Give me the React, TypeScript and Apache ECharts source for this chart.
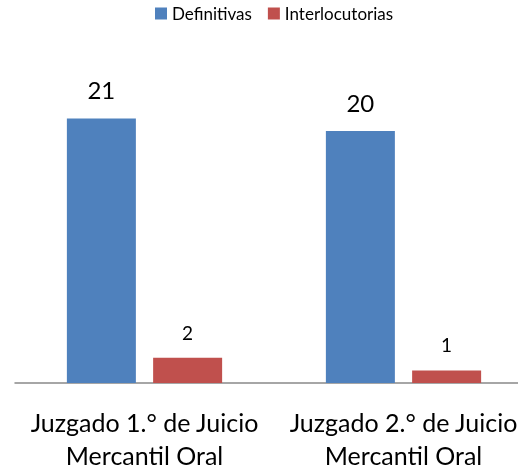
import React, { useEffect, useRef } from "react";
import * as echarts from "echarts";

const categories = ["Juzgado 1.° de Juicio\nMercantil Oral", "Juzgado 2.° de Juicio\nMercantil Oral"];
const definitivas = [21, 20];
const interlocutorias = [2, 1];
const seriesNames = ["Definitivas", "Interlocutorias"];

export default function App() {
  const ref = useRef<HTMLDivElement>(null);
  useEffect(() => {
    const chart = echarts.init(ref.current!, null, { renderer: "svg" });
    chart.setOption({
      animation: false,
      textStyle: { fontFamily: "Lato" },
      legend: {
        top: 0,
        left: 150,
        itemWidth: 12,
        itemHeight: 12,
        itemGap: 16,
        icon: "rect",
        textStyle: { fontSize: 17, color: "#000", fontFamily: "Lato" },
        data: seriesNames,
      },
      grid: { left: 15, right: 0, top: 68, bottom: 87 },
      xAxis: {
        type: "category",
        data: categories,
        axisLine: { lineStyle: { color: "#898989", width: 1.5 } },
        axisTick: { show: false },
        axisLabel: { interval: 0, fontSize: 25, color: "#000", lineHeight: 33, margin: 22, fontFamily: "Lato" },
      },
      yAxis: {
        type: "value",
        min: 0,
        max: 25,
        show: false,
        splitLine: { show: false },
      },
      series: [
        {
          name: seriesNames[0],
          type: "bar",
          data: definitivas,
          barWidth: 69,
          barGap: "25%",
          itemStyle: { color: "#4F81BD" },
          label: { show: true, position: "top", distance: 17, fontSize: 24, color: "#000", fontFamily: "Lato" },
        },
        {
          name: seriesNames[1],
          type: "bar",
          data: interlocutorias,
          barWidth: 69,
          itemStyle: { color: "#C0504D" },
          label: { show: true, position: "top", distance: 16, fontSize: 19, color: "#000", fontFamily: "Lato" },
        },
      ],
    });
    return () => chart.dispose();
  }, []);
  return (
    <div style={{ position: "fixed", left: 0, top: 0, width: 518, height: 471, overflow: "hidden" }}>
      <div ref={ref} style={{ position: "absolute", left: 0, top: 0, width: 533, height: 471 }} />
    </div>
  );
}
